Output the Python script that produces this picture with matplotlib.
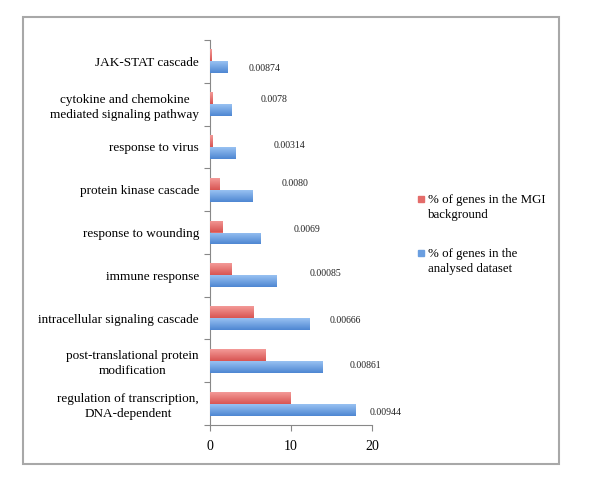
import matplotlib
matplotlib.use("Agg")
import matplotlib.pyplot as plt
import numpy as np
from matplotlib.colors import LinearSegmentedColormap
from matplotlib.patches import Rectangle

categories = [
    "regulation of transcription,\nDNA-dependent",
    "post-translational protein\nmodification",
    "intracellular signaling cascade",
    "immune response",
    "response to wounding",
    "protein kinase cascade",
    "response to virus",
    "cytokine and chemokine\nmediated signaling pathway",
    "JAK-STAT cascade",
]
mgi_background = [9.9, 6.8, 5.4, 2.65, 1.6, 1.2, 0.3, 0.3, 0.15]
analysed_dataset = [17.95, 13.9, 12.3, 8.2, 6.2, 5.2, 3.1, 2.6, 2.1]
p_values = ["0.00944", "0.00861", "0.00666", "0.00085", "0.0069",
            "0.0080", "0.00314", "0.0078", "0.00874"]
series_names = ["% of genes in the MGI\nbackground",
                "% of genes in the\nanalysed dataset"]
x_ticks = [0, 10, 20]

# annotation placement (data coords) for the p-value labels
p_label_x = [19.7, 17.2, 14.8, 12.3, 10.3, 8.9, 7.9, 6.3, 4.8]
p_label_dy = [-0.2, -0.12, -0.05, 0.03, 0.08, 0.15, 0.04, 0.11, -0.16]

serif = ["Liberation Serif", "DejaVu Serif"]
plt.rcParams["font.family"] = serif

fig = plt.figure(figsize=(6.0, 4.98), dpi=100)
W, H = 600, 498
ax = fig.add_axes([210 / W, (H - 425) / H, 162 / W, 385 / H])

red_c = "#E46C6A"
blue_c = "#6A9EE0"
red_cmap = LinearSegmentedColormap.from_list("r", ["#D85552", "#F49A98"])
blue_cmap = LinearSegmentedColormap.from_list("b", ["#4E86D2", "#98C2F2"])

y = np.arange(len(categories))
h = 0.28
red_bars = ax.barh(y + h / 2, mgi_background, height=h, color=red_c, zorder=2)
blue_bars = ax.barh(y - h / 2, analysed_dataset, height=h, color=blue_c, zorder=2)

grad = np.linspace(0, 1, 64).reshape(-1, 1)
for bars, cmap in ((red_bars, red_cmap), (blue_bars, blue_cmap)):
    for b in bars:
        x0, y0 = b.get_x(), b.get_y()
        x1, y1 = x0 + b.get_width(), y0 + b.get_height()
        im = ax.imshow(grad, extent=[x0, x1, y0, y1], origin="lower",
                       aspect="auto", cmap=cmap, zorder=3)
        im.set_clip_path(b)

for i, (txt, px, dy) in enumerate(zip(p_values, p_label_x, p_label_dy)):
    ax.text(px, i + dy, txt, fontsize=7, ha="left", va="center",
            color="#222222", family=serif)

ax.set_xlim(0, 20)
ax.set_ylim(-0.5, len(categories) - 0.5)
ax.set_xticks(x_ticks)
ax.set_xticklabels([str(t) for t in x_ticks], fontsize=10)
ax.set_yticks(np.arange(len(categories) + 1) - 0.5)
ax.set_yticklabels([])
ax.set_yticks(y, minor=True)
ax.set_yticklabels(categories, minor=True, fontsize=9.5)
for lbl in ax.get_yticklabels(minor=True):
    lbl.set_multialignment("center")
    lbl.set_linespacing(1.35)
ax.tick_params(axis="y", which="minor", length=0, pad=8)
ax.tick_params(axis="y", which="major", length=4, color="#888888", width=0.8)
ax.tick_params(axis="x", length=4, color="#888888", width=0.8, pad=7)
for s in ("top", "right"):
    ax.spines[s].set_visible(False)
for s in ("left", "bottom"):
    ax.spines[s].set_color("#888888")
    ax.spines[s].set_linewidth(0.8)

# outer frame
frame = Rectangle((23 / W, (H - 464) / H), (559 - 23) / W, (464 - 17) / H,
                  transform=fig.transFigure, fill=False, edgecolor="#A8A8A8",
                  linewidth=1.5)
fig.patches.append(frame)

# legend
for name, col, ytop in ((series_names[0], red_c, 194), (series_names[1], blue_c, 248)):
    fig.patches.append(Rectangle((418 / W, (H - ytop - 8) / H), 6 / W, 6 / H,
                                 transform=fig.transFigure, color=col))
    fig.text(428 / W, (H - ytop) / H, name, fontsize=9.3, ha="left", va="top",
             linespacing=1.3)

fig.savefig("out.png", dpi=100)
